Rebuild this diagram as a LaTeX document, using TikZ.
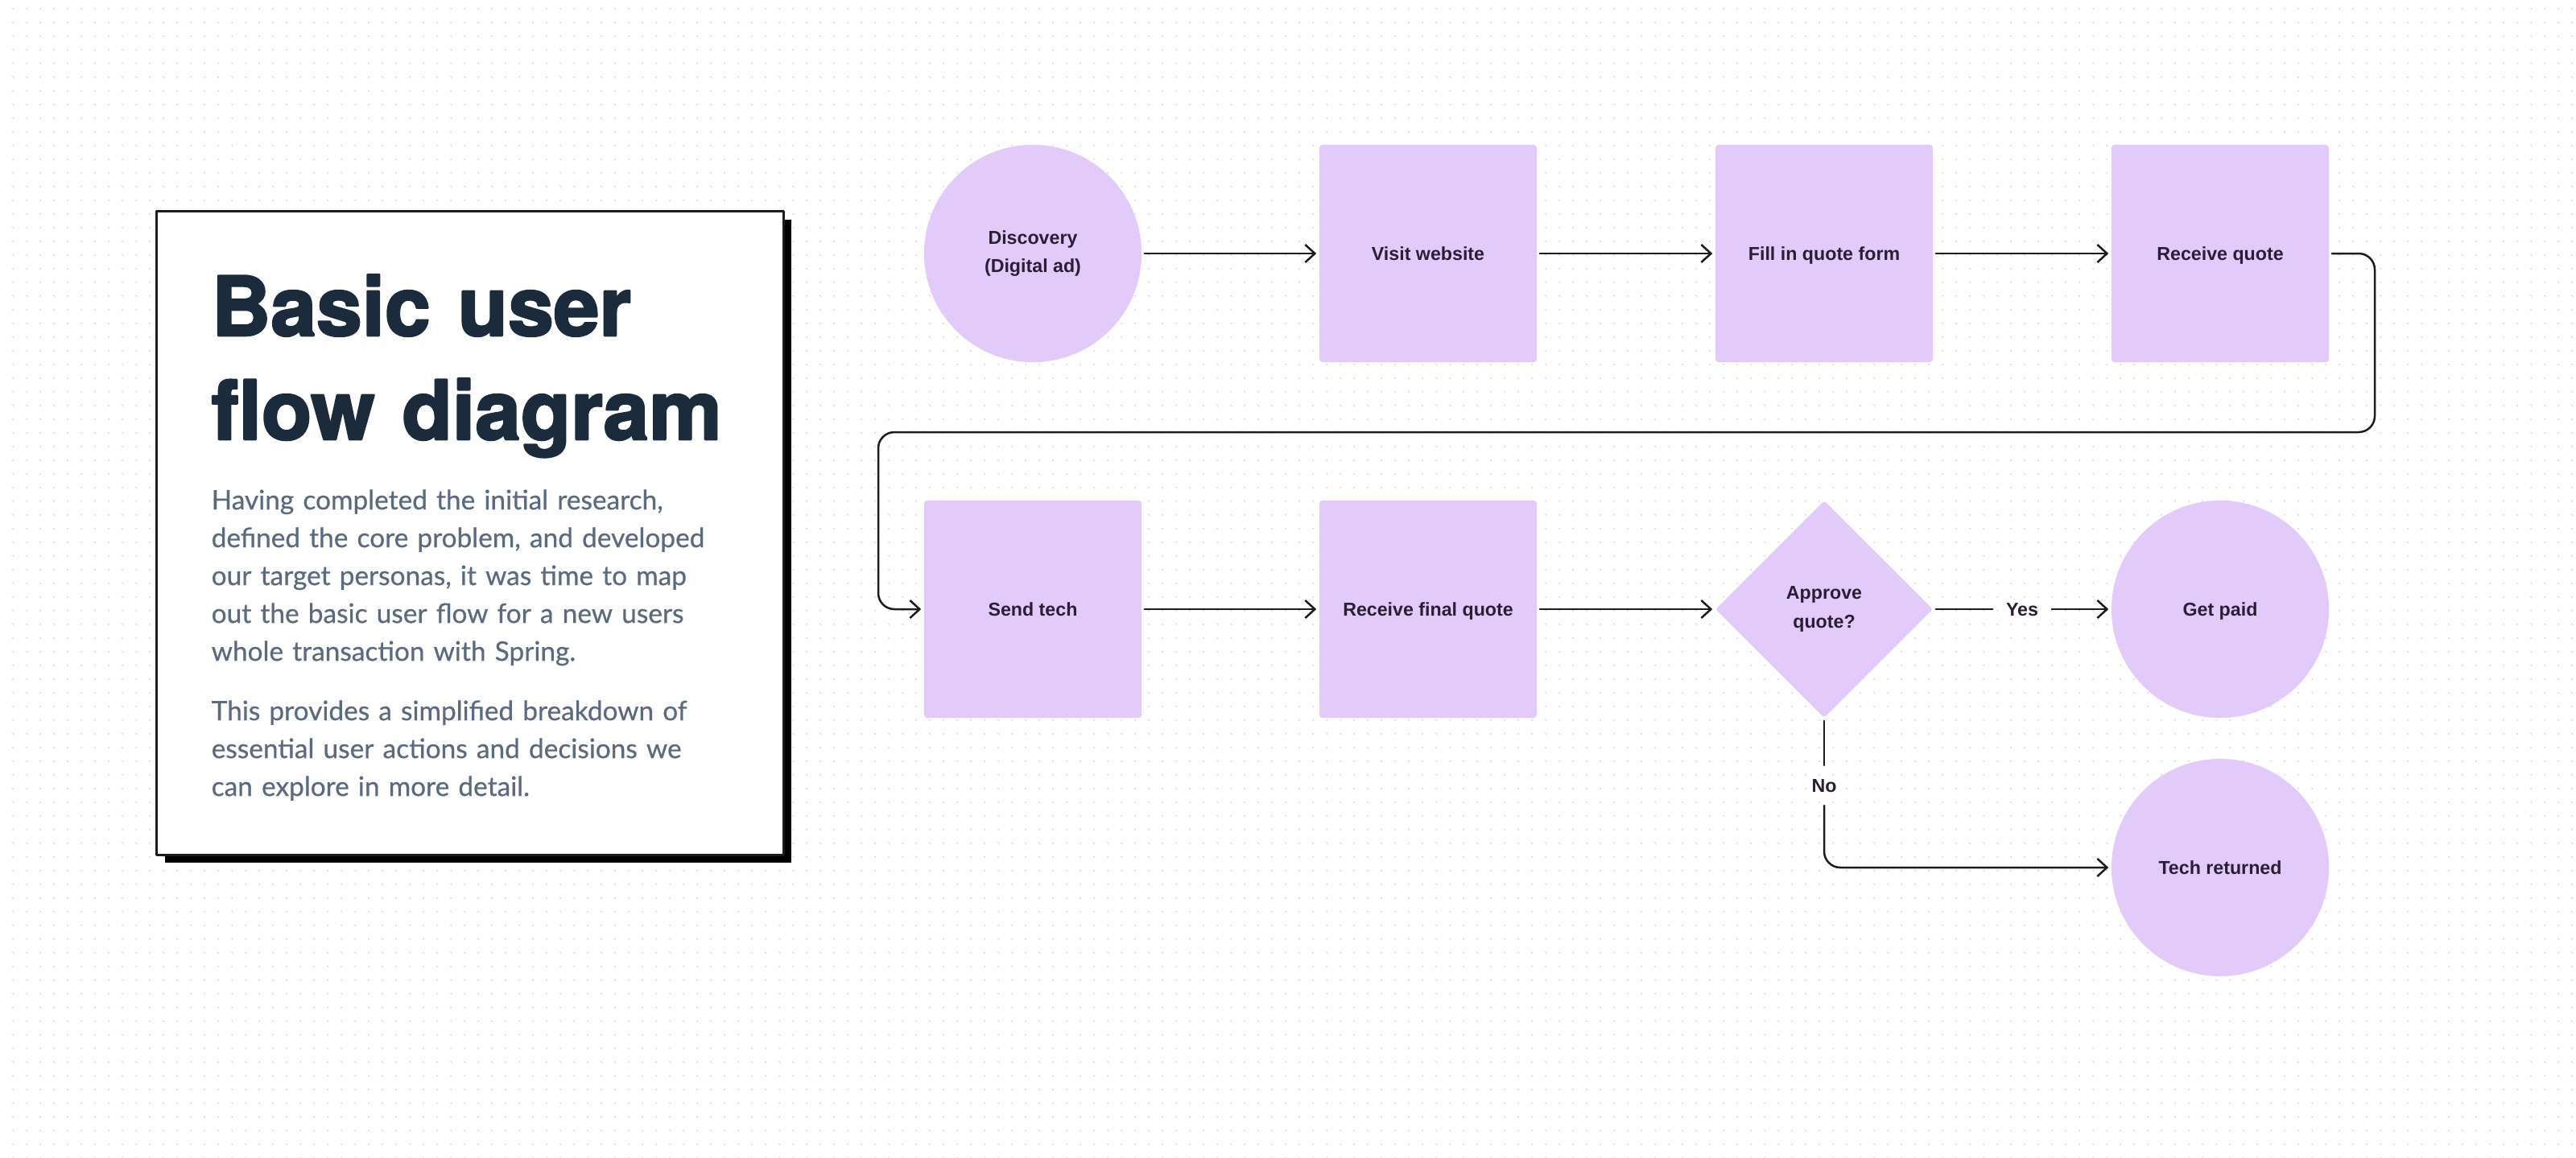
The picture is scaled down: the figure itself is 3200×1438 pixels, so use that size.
\documentclass[tikz,border=0pt]{standalone}
\usepackage{fontspec}
\setmainfont{Liberation Sans}
\newfontfamily\headfont{TeX Gyre Heros}[BoldFeatures={FakeBold=2.5}]
\newfontfamily\bodyfont{Lato}[FakeBold=0.5]
\usepackage{tikz}
\usetikzlibrary{arrows.meta}
\usetikzlibrary{positioning}
\usetikzlibrary{shadows}
\usetikzlibrary{shapes.geometric}
\usetikzlibrary{patterns.meta}

\definecolor{lilac}{HTML}{E2CBFA}
\definecolor{ink}{HTML}{2A1E33}
\definecolor{navy}{HTML}{1B2B3C}
\definecolor{slate}{HTML}{5A6A80}
\definecolor{wire}{HTML}{1C1C1C}
\definecolor{dotgrey}{HTML}{D6D6D6}

\begin{document}
\begin{tikzpicture}[line cap=round,line join=round,>={Straight Barb[length=0.12cm,width=0.22cm]},x=0.01cm,y=0.01cm,
  stepnode/.style={fill=lilac,text=ink,font=\bfseries\fontsize{6.6}{10.2}\selectfont,align=center,inner sep=0pt},
  oneline/.style={text height=0.165cm,text depth=0pt},
  roundnode/.style={stepnode,circle,minimum size=2.70cm},
  boxnode/.style={stepnode,oneline,rectangle,rounded corners=0.04cm,minimum size=2.70cm},
  asknode/.style={stepnode,diamond,aspect=1,minimum width=2.70cm,minimum height=2.70cm,rounded corners=0.03cm},
  flow/.style={->,draw=wire,line width=0.025cm,shorten <=0.03cm,shorten >=0.03cm},
  answer/.style={text=ink,oneline,font=\bfseries\fontsize{6.6}{8}\selectfont,inner sep=0.13cm},
  blurb/.style={anchor=base west,text width=7cm,align=left,inner sep=0pt}]
\useasboundingbox (0,0) rectangle (3200,-1438);
% dotted canvas
\fill[white] (0,0) rectangle (3200,-1438);
\fill[pattern={Dots[radius=0.011cm,distance=0.1667cm]},pattern color=dotgrey] (0,0) rectangle (3200,-1438);
% intro card
\node[draw=wire,fill=white,line width=0.03cm,minimum width=7.78cm,minimum height=7.99cm,inner sep=0pt,
  drop shadow={shadow xshift=0.10cm,shadow yshift=-0.10cm,fill=black,opacity=1}] (card) at (584,-662.5) {};
\node[blurb,text=navy,font=\headfont\bfseries\fontsize{29}{36.7}\selectfont] (title) at (262,-417) {Basic user\\flow diagram};
\node[blurb,text=slate,font=\bodyfont\fontsize{9.5}{13.37}\selectfont] (intro) at (262,-633) {Having completed the initial research,\\defined the core problem, and developed\\our target personas, it was time to map\\out the basic user flow for a new users\\whole transaction with Spring.};
\node[blurb,text=slate,font=\bodyfont\fontsize{9.5}{13.37}\selectfont] (note) at (262,-895) {This provides a simplified breakdown of\\essential user actions and decisions we\\can explore in more detail.};
% flow steps
\node[roundnode] (disc) at (1283,-315) {Discovery\\(Digital ad)};
\node[boxnode] (visit) at (1774,-315) {Visit website};
\node[boxnode] (form) at (2266,-315) {Fill in quote form};
\node[boxnode] (recq) at (2758,-315) {Receive quote};
\node[boxnode] (send) at (1283,-757) {Send tech};
\node[boxnode] (final) at (1774,-757) {Receive final quote};
\node[asknode] (appr) at (2266,-757) {Approve\\quote?};
\node[roundnode,oneline] (paid) at (2758,-757) {Get paid};
\node[roundnode,oneline] (back) at (2758,-1078) {Tech returned};
\node[answer] (yes) at (2512,-757) {Yes};
\node[answer] (no) at (2266,-976) {No};
% connectors
\draw[flow] (disc) -- (visit);
\draw[flow] (visit) -- (form);
\draw[flow] (form) -- (recq);
\coordinate (turnR) at (2950,-537);
\coordinate (turnL) at (1091,-537);
\draw[flow,rounded corners=0.2cm] (recq.east) -| (turnR) -- (turnL) |- (send.west);
\draw[flow] (send) -- (final);
\draw[flow] (final) -- (appr);
\draw[flow,-] (appr.east) -- (yes);
\draw[flow] (yes) -- (paid);
\draw[flow,-] (appr.south) -- (no);
\draw[flow,rounded corners=0.2cm] (no.south) |- (back.west);
\end{tikzpicture}
\end{document}
